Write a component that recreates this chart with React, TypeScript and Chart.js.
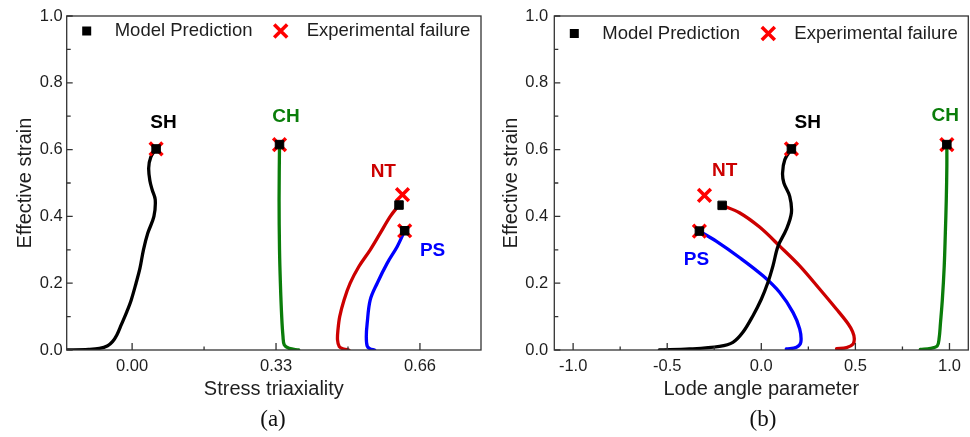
import React, { useEffect, useRef } from 'react';
import { Chart, registerables } from 'chart.js';
Chart.register(...registerables);

type P = [number, number];

// ---------- Panel (a): Stress triaxiality ----------
const triaxSH: P[] = [[-0.152, 0.0], [-0.1, 0.002], [-0.075, 0.005], [-0.056, 0.013], [-0.045, 0.025], [-0.035, 0.045], [-0.025, 0.075], [-0.012, 0.115], [-0.002, 0.15], [0.009, 0.2], [0.018, 0.245], [0.026, 0.3], [0.036, 0.35], [0.05, 0.4], [0.053, 0.45], [0.046, 0.48], [0.041, 0.505], [0.038, 0.545], [0.043, 0.578], [0.055, 0.602]];
const triaxCH: P[] = [[0.382, 0.0], [0.36, 0.005], [0.349, 0.015], [0.346, 0.04], [0.343, 0.1], [0.34, 0.2], [0.338, 0.3], [0.337, 0.45], [0.338, 0.615]];
const triaxNT: P[] = [[0.497, 0.0], [0.485, 0.003], [0.475, 0.01], [0.471, 0.03], [0.472, 0.06], [0.476, 0.1], [0.486, 0.15], [0.5, 0.2], [0.52, 0.25], [0.546, 0.3], [0.569, 0.35], [0.592, 0.4], [0.612, 0.434]];
const triaxPS: P[] = [[0.556, 0.0], [0.545, 0.004], [0.539, 0.012], [0.537, 0.04], [0.539, 0.08], [0.546, 0.15], [0.562, 0.2], [0.585, 0.26], [0.608, 0.31], [0.625, 0.357]];
const triaxModel: P[] = [[0.055, 0.602], [0.338, 0.615], [0.612, 0.434], [0.625, 0.357]];
const triaxExp: P[] = [[0.055, 0.602], [0.338, 0.615], [0.62, 0.465], [0.625, 0.357]];
const triaxLabelPos: P[] = [[0.072, 0.68], [0.353, 0.697], [0.576, 0.533], [0.689, 0.296]];
const triaxTicks = [0, 0.33, 0.66];
const triaxMinor = [0.165, 0.495];

// ---------- Panel (b): Lode angle parameter ----------
const lodeSH: P[] = [[-0.542, 0.0], [-0.382, 0.003], [-0.222, 0.011], [-0.151, 0.023], [-0.098, 0.053], [-0.045, 0.102], [0.0, 0.152], [0.035, 0.202], [0.062, 0.252], [0.089, 0.311], [0.133, 0.361], [0.16, 0.411], [0.151, 0.46], [0.12, 0.5], [0.113, 0.53], [0.125, 0.57], [0.16, 0.602]];
const lodeCH: P[] = [[0.845, 0.002], [0.9, 0.005], [0.935, 0.012], [0.945, 0.035], [0.952, 0.08], [0.962, 0.15], [0.972, 0.25], [0.978, 0.35], [0.983, 0.45], [0.986, 0.55], [0.986, 0.615]];
const lodeNT: P[] = [[0.4, 0.004], [0.453, 0.007], [0.488, 0.018], [0.494, 0.035], [0.485, 0.055], [0.462, 0.078], [0.4, 0.122], [0.311, 0.182], [0.204, 0.252], [0.098, 0.311], [-0.009, 0.368], [-0.116, 0.411], [-0.208, 0.433]];
const lodePS: P[] = [[0.133, 0.003], [0.187, 0.008], [0.21, 0.023], [0.204, 0.063], [0.169, 0.112], [0.098, 0.172], [0.009, 0.222], [-0.116, 0.277], [-0.24, 0.326], [-0.329, 0.356]];
const lodeModel: P[] = [[0.16, 0.602], [0.986, 0.615], [-0.208, 0.433], [-0.329, 0.356]];
const lodeExp: P[] = [[0.16, 0.602], [0.986, 0.615], [-0.302, 0.463], [-0.329, 0.356]];
const lodeLabelPos: P[] = [[0.247, 0.68], [0.977, 0.7], [-0.195, 0.536], [-0.345, 0.269]];
const lodeTicks = [-1.0, -0.5, 0.0, 0.5, 1.0];
const lodeMinor = [-0.75, -0.25, 0.25, 0.75];

// ---------- shared ----------
const specimenNames = ['SH', 'CH', 'NT', 'PS'];
const specimenColors = ['#000000', '#0a7d0a', '#cc0000', '#0000ff'];
const strainTicks = [0, 0.2, 0.4, 0.6, 0.8, 1.0];
const strainMinor = [0.1, 0.3, 0.5, 0.7, 0.9];
const legendNames = ['Model Prediction', 'Experimental failure'];

const SANS = '"Liberation Sans", Arial, Helvetica, sans-serif';
const TXT = '#1e1e1e';

interface PanelCfg {
  curves: P[][];
  model: P[];
  exp: P[];
  labelPos: P[];
  xMin: number;
  xMax: number;
  xTicks: number[];
  xMinor: number[];
  xDec: number;
  xTitle: string;
  padLeft: number;
  padRight: number;
  yWidth: number;
  yPad: number;
  legendY: number;
}

function Panel({ cfg, left }: { cfg: PanelCfg; left: number }) {
  const ref = useRef<HTMLCanvasElement | null>(null);
  useEffect(() => {
    if (!ref.current) return;
    const toXY = (arr: P[]) => arr.map(([x, y]) => ({ x, y }));
    const datasets: any[] = [
      {
        data: toXY(cfg.model),
        pointStyle: 'rect',
        pointRadius: 6,
        pointBackgroundColor: '#000',
        pointBorderColor: '#000',
        pointBorderWidth: 1,
        showLine: false,
      },
      {
        data: toXY(cfg.exp),
        pointStyle: 'crossRot',
        pointRadius: 9,
        pointBorderColor: '#ff0000',
        pointBorderWidth: 3.5,
        showLine: false,
      },
      ...cfg.curves.map((c, i) => ({
        data: toXY(c),
        showLine: true,
        pointRadius: 0,
        borderColor: specimenColors[i],
        borderWidth: 3.3,
        tension: 0.35,
        borderCapStyle: 'round',
        borderJoinStyle: 'round',
        fill: false,
      })),
    ];

    const deco = {
      id: 'deco',
      afterDraw(chart: any) {
        const { ctx, chartArea: a, scales } = chart;
        const xs = scales.x, ys = scales.y;
        ctx.save();
        ctx.strokeStyle = '#333';
        ctx.lineWidth = 1.3;
        ctx.strokeRect(a.left, a.top, a.right - a.left, a.bottom - a.top);
        ctx.beginPath();
        cfg.xTicks.forEach((v) => { const p = xs.getPixelForValue(v); ctx.moveTo(p, a.bottom); ctx.lineTo(p, a.bottom - 7); });
        cfg.xMinor.forEach((v) => { const p = xs.getPixelForValue(v); ctx.moveTo(p, a.bottom); ctx.lineTo(p, a.bottom - 3.5); });
        strainTicks.forEach((v) => { const p = ys.getPixelForValue(v); ctx.moveTo(a.left, p); ctx.lineTo(a.left + 6, p); });
        strainMinor.forEach((v) => { const p = ys.getPixelForValue(v); ctx.moveTo(a.left, p); ctx.lineTo(a.left + 4, p); });
        ctx.stroke();

        // specimen labels
        ctx.font = `bold 19px ${SANS}`;
        ctx.textAlign = 'center';
        ctx.textBaseline = 'middle';
        cfg.labelPos.forEach(([x, y], i) => {
          ctx.fillStyle = specimenColors[i];
          ctx.fillText(specimenNames[i], xs.getPixelForValue(x), ys.getPixelForValue(y));
        });

        // legend
        const ly = cfg.legendY;
        const lx = a.left;
        ctx.fillStyle = '#000';
        ctx.fillRect(lx + 20 - 4.5, ly - 4.5, 9, 9);
        ctx.strokeStyle = '#ff0000';
        ctx.lineWidth = 3.5;
        ctx.beginPath();
        const cx = lx + 214;
        ctx.moveTo(cx - 6.5, ly - 6.5); ctx.lineTo(cx + 6.5, ly + 6.5);
        ctx.moveTo(cx + 6.5, ly - 6.5); ctx.lineTo(cx - 6.5, ly + 6.5);
        ctx.stroke();
        ctx.font = `18.5px ${SANS}`;
        ctx.textAlign = 'left';
        ctx.fillStyle = TXT;
        ctx.fillText(legendNames[0], lx + 48, ly);
        ctx.fillText(legendNames[1], lx + 240, ly);
        ctx.restore();
      },
    };

    const chart = new Chart(ref.current, {
      type: 'scatter',
      data: { datasets },
      options: {
        animation: false,
        responsive: false,
        maintainAspectRatio: false,
        layout: { autoPadding: false, padding: { left: cfg.padLeft, top: 16, right: cfg.padRight, bottom: 36 } },
        plugins: { legend: { display: false }, tooltip: { enabled: false } },
        scales: {
          x: {
            type: 'linear',
            min: cfg.xMin,
            max: cfg.xMax,
            grid: { display: false, drawTicks: false },
            border: { display: false },
            afterBuildTicks: (s: any) => { s.ticks = cfg.xTicks.map((v) => ({ value: v })); },
            afterFit: (s: any) => { s.height = 51; },
            ticks: {
              padding: 7,
              autoSkip: false,
              maxRotation: 0,
              color: TXT,
              font: { family: SANS, size: 16.5 },
              callback: (v: any) => Number(v).toFixed(cfg.xDec),
            },
            title: { display: true, text: cfg.xTitle, color: TXT, font: { family: SANS, size: 20 }, padding: 0 },
          },
          y: {
            type: 'linear',
            min: 0,
            max: 1,
            grid: { display: false, drawTicks: false },
            border: { display: false },
            afterBuildTicks: (s: any) => { s.ticks = strainTicks.map((v) => ({ value: v })); },
            afterFit: (s: any) => { s.width = cfg.yWidth; },
            ticks: {
              padding: cfg.yPad,
              color: TXT,
              font: { family: SANS, size: 16.5 },
              callback: (v: any) => Number(v).toFixed(1),
            },
            title: { display: true, text: 'Effective strain', color: TXT, font: { family: SANS, size: 20 }, padding: 0 },
          },
        },
      },
      plugins: [deco],
    } as any);
    return () => chart.destroy();
  }, [cfg]);
  return (
    <canvas
      ref={ref}
      width={485}
      height={437}
      style={{ position: 'absolute', left, top: 0, width: 485, height: 437 }}
    />
  );
}

const cfgA: PanelCfg = {
  curves: [triaxSH, triaxCH, triaxNT, triaxPS],
  model: triaxModel,
  exp: triaxExp,
  labelPos: triaxLabelPos,
  xMin: -0.15,
  xMax: 0.8,
  xTicks: triaxTicks,
  xMinor: triaxMinor,
  xDec: 2,
  xTitle: 'Stress triaxiality',
  padLeft: 13,
  padRight: 4,
  yWidth: 53.7,
  yPad: 4,
  legendY: 31,
};

const cfgB: PanelCfg = {
  curves: [lodeSH, lodeCH, lodeNT, lodePS],
  model: lodeModel,
  exp: lodeExp,
  labelPos: lodeLabelPos,
  xMin: -1.1,
  xMax: 1.1,
  xTicks: lodeTicks,
  xMinor: lodeMinor,
  xDec: 1,
  xTitle: 'Lode angle parameter',
  padLeft: 14,
  padRight: 1.7,
  yWidth: 55.3,
  yPad: 6,
  legendY: 33.5,
};

export default function App() {
  const cap: React.CSSProperties = {
    position: 'absolute',
    top: 407,
    width: 60,
    textAlign: 'center',
    fontFamily: '"Liberation Serif", "Times New Roman", serif',
    fontSize: 23,
    lineHeight: '23px',
    color: '#111',
  };
  return (
    <div style={{ position: 'fixed', left: 0, top: 0, width: 970, height: 437, background: '#fff', overflow: 'hidden' }}>
      <Panel cfg={cfgA} left={0} />
      <Panel cfg={cfgB} left={485} />
      <div style={{ ...cap, left: 273 - 30 }}>(a)</div>
      <div style={{ ...cap, left: 763 - 30 }}>(b)</div>
    </div>
  );
}
